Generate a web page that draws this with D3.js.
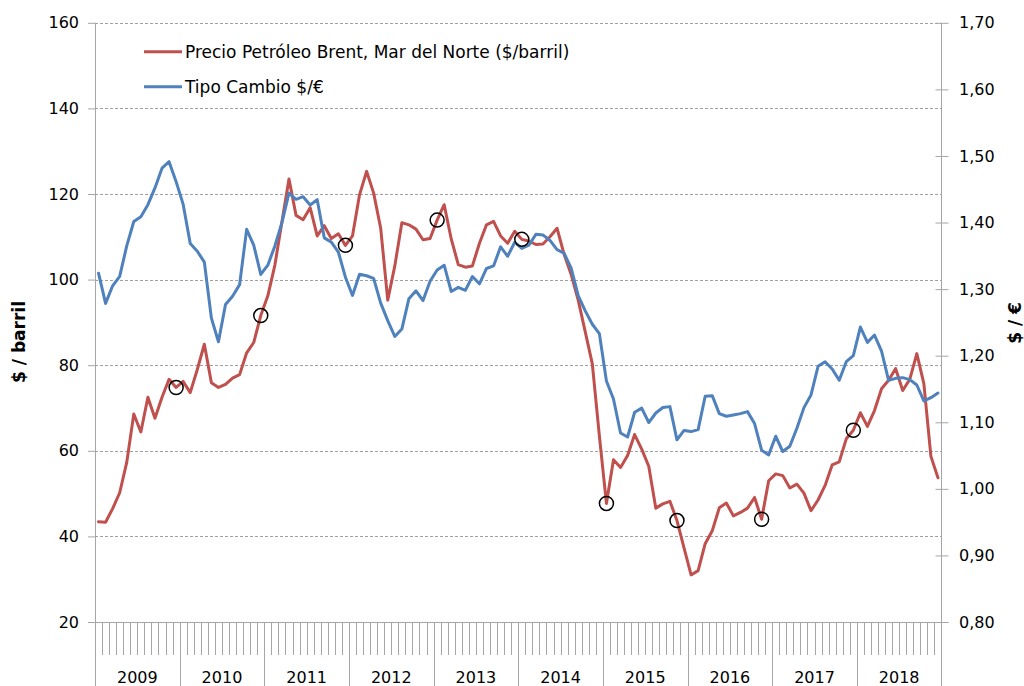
<!DOCTYPE html>
<html>
<head>
<meta charset="utf-8">
<script src="https://cdn.jsdelivr.net/npm/d3@7"></script>
<style>
  html, body { margin: 0; padding: 0; background: #fff; }
  svg { display: block; font-family: "DejaVu Sans", Verdana, sans-serif; }
</style>
</head>
<body>
<svg id="chart" width="1024" height="686"></svg>
<script>
// ---- Data ----
const years = [2009, 2010, 2011, 2012, 2013, 2014, 2015, 2016, 2017, 2018];

const brent = [
  43.4, 43.3, 46.5, 50.2, 57.3, 68.6, 64.4, 72.5, 67.6, 72.5, 76.7, 74.8,
  76.2, 73.6, 79.0, 84.9, 75.9, 74.8, 75.5, 77.0, 77.8, 82.9, 85.3, 91.6,
  96.2, 103.4, 113.5, 123.5, 115.0, 114.0, 116.8, 110.2, 112.6, 109.6, 110.7, 108.0,
  110.2, 119.8, 125.3, 120.2, 112.0, 95.2, 103.2, 113.3, 112.8, 111.8, 109.3, 109.6,
  113.9, 117.5, 109.5, 103.5, 102.9, 103.2, 108.5, 112.8, 113.6, 110.2, 108.5, 111.3,
  109.4, 109.0, 108.2, 108.3, 110.0, 112.0, 105.9, 101.2, 95.2, 87.8, 80.3, 63.5,
  47.7, 57.9, 56.1, 58.9, 63.8, 60.4, 56.4, 46.6, 47.6, 48.2, 43.7, 37.3,
  31.0, 32.0, 38.3, 41.3, 46.7, 47.8, 44.8, 45.6, 46.6, 49.1, 44.0, 53.0,
  54.6, 54.2, 51.3, 52.2, 50.1, 46.0, 48.5, 51.9, 56.7, 57.4, 62.8, 64.8,
  68.9, 65.7, 69.4, 74.5, 76.5, 79.2, 74.1, 76.7, 82.7, 75.7, 58.7, 53.7
];

const eurusd = [
  1.3239, 1.2785, 1.3050, 1.3190, 1.3650, 1.4016, 1.4088, 1.4268, 1.4520, 1.4816, 1.4914, 1.4614,
  1.4272, 1.3686, 1.3569, 1.3406, 1.2565, 1.2209, 1.2770, 1.2894, 1.3067, 1.3898, 1.3661, 1.3220,
  1.3360, 1.3649, 1.3999, 1.4442, 1.4349, 1.4388, 1.4264, 1.4343, 1.3770, 1.3706, 1.3556, 1.3179,
  1.2905, 1.3224, 1.3201, 1.3162, 1.2789, 1.2526, 1.2288, 1.2400, 1.2856, 1.2974, 1.2828, 1.3119,
  1.3288, 1.3359, 1.2964, 1.3026, 1.2982, 1.3189, 1.3080, 1.3310, 1.3348, 1.3635, 1.3493, 1.3704,
  1.3610, 1.3659, 1.3823, 1.3813, 1.3732, 1.3592, 1.3539, 1.3316, 1.2901, 1.2673, 1.2472, 1.2331,
  1.1621, 1.1350, 1.0838, 1.0779, 1.1150, 1.1213, 1.0996, 1.1139, 1.1221, 1.1235, 1.0736, 1.0877,
  1.0860, 1.0890, 1.1390, 1.1400, 1.1130, 1.1090, 1.1110, 1.1130, 1.1160, 1.0980, 1.0580, 1.0510,
  1.0790, 1.0560, 1.0640, 1.0910, 1.1220, 1.1410, 1.1840, 1.1910, 1.1800, 1.1630, 1.1910, 1.2000,
  1.2430, 1.2200, 1.2310, 1.2070, 1.1630, 1.1660, 1.1670, 1.1640, 1.1560, 1.1320, 1.1370, 1.1440
];

const markedMonths = [11, 23, 35, 48, 60, 72, 82, 94, 107];

const leftTicks = [20, 40, 60, 80, 100, 120, 140, 160];
const rightTicks = [0.8, 0.9, 1.0, 1.1, 1.2, 1.3, 1.4, 1.5, 1.6, 1.7];

const seriesNames = ["Precio Petróleo Brent, Mar del Norte ($/barril)", "Tipo Cambio $/€"];
const leftTitle = "$ / barril";
const rightTitle = "$ / €";

(function () {
// ---- Layout ----
const pL = 95, pR = 941.5, pT = 22.8, pB = 622;
const red = "#c0504d", blue = "#4f81bd", axisGray = "#a6a6a6";
const nMonths = years.length * 12;

const svg = d3.select("#chart");

const x = d3.scaleLinear().domain([0, nMonths]).range([pL, pR]);
const yL = d3.scaleLinear().domain([20, 160]).range([pB, pT]);
const yR = d3.scaleLinear().domain([0.8, 1.7]).range([pB, pT]);

const commaFmt = v => d3.format(".2f")(v).replace(".", ",");

// Gridlines (dashed)
svg.append("g").selectAll("line")
  .data(leftTicks.filter(t => t !== 20))
  .join("line")
  .attr("x1", pL).attr("x2", pR)
  .attr("y1", d => Math.round(yL(d)) + 0.5).attr("y2", d => Math.round(yL(d)) + 0.5)
  .attr("stroke", "#a0a0a0").attr("stroke-width", 1)
  .attr("stroke-dasharray", "3,2");

// Left axis
const gL = svg.append("g").attr("transform", `translate(${pL},0)`)
  .call(d3.axisLeft(yL).tickValues(leftTicks).tickSize(7).tickPadding(9).tickFormat(d3.format("d")));
gL.select(".domain").remove();
gL.selectAll(".tick line").attr("stroke", axisGray);
gL.selectAll(".tick text").attr("font-size", 16).attr("fill", "#000")
  .attr("font-family", "DejaVu Sans, Verdana, sans-serif");

// Right axis
const gR = svg.append("g").attr("transform", `translate(${pR},0)`)
  .call(d3.axisRight(yR).tickValues(rightTicks).tickSize(7).tickPadding(10.5).tickFormat(commaFmt));
gR.select(".domain").remove();
gR.selectAll(".tick line").attr("stroke", axisGray).attr("x1", -6);
gR.selectAll(".tick text").attr("font-size", 16).attr("fill", "#000")
  .attr("font-family", "DejaVu Sans, Verdana, sans-serif");

// Axis lines
svg.append("line").attr("x1", pL + 0.5).attr("x2", pL + 0.5).attr("y1", pT).attr("y2", 686)
  .attr("stroke", axisGray);
svg.append("line").attr("x1", pR).attr("x2", pR).attr("y1", pT).attr("y2", 686)
  .attr("stroke", axisGray);
svg.append("line").attr("x1", pL).attr("x2", pR + 7).attr("y1", pB + 0.5).attr("y2", pB + 0.5)
  .attr("stroke", axisGray);

// Month ticks & year separators
const boundaries = d3.range(1, nMonths);
svg.append("g").selectAll("line")
  .data(boundaries)
  .join("line")
  .attr("x1", d => Math.round(x(d)) + 0.5).attr("x2", d => Math.round(x(d)) + 0.5)
  .attr("y1", pB)
  .attr("y2", d => d % 12 === 0 ? 686 : 655)
  .attr("stroke", axisGray);

// Year labels
svg.append("g").selectAll("text")
  .data(years)
  .join("text")
  .attr("x", (d, i) => x(i * 12 + 6))
  .attr("y", 683)
  .attr("text-anchor", "middle")
  .attr("font-size", 16)
  .attr("fill", "#000")
  .text(d => d);

// Axis titles
svg.append("text")
  .attr("transform", `translate(25,342) rotate(-90)`)
  .attr("text-anchor", "middle")
  .attr("font-size", 17).attr("font-weight", "bold").attr("fill", "#000")
  .text(leftTitle);
svg.append("text")
  .attr("transform", `translate(1021,323) rotate(-90)`)
  .attr("text-anchor", "middle")
  .attr("font-size", 17).attr("font-weight", "bold").attr("fill", "#000")
  .text(rightTitle);

// Lines
const lineL = d3.line().x((d, i) => x(i + 0.5)).y(d => yL(d));
const lineR = d3.line().x((d, i) => x(i + 0.5)).y(d => yR(d));

svg.append("path").datum(brent)
  .attr("d", lineL).attr("fill", "none").attr("stroke", red)
  .attr("stroke-width", 3).attr("stroke-linejoin", "round").attr("stroke-linecap", "round");
svg.append("path").datum(eurusd)
  .attr("d", lineR).attr("fill", "none").attr("stroke", blue)
  .attr("stroke-width", 3).attr("stroke-linejoin", "round").attr("stroke-linecap", "round");

// Marked points (circles)
svg.append("g").selectAll("circle")
  .data(markedMonths)
  .join("circle")
  .attr("cx", d => x(d + 0.5))
  .attr("cy", d => yL(brent[d]))
  .attr("r", 7)
  .attr("fill", "none")
  .attr("stroke", "#000")
  .attr("stroke-width", 1.5);

// Legend
const legend = svg.append("g");
const legendRows = [
  { name: seriesNames[0], color: red, y: 51.7 },
  { name: seriesNames[1], color: blue, y: 86.7 }
];
legendRows.forEach(r => {
  legend.append("line").attr("x1", 144).attr("x2", 182).attr("y1", r.y).attr("y2", r.y)
    .attr("stroke", r.color).attr("stroke-width", 3);
  legend.append("text").attr("x", 185).attr("y", r.y + 6)
    .attr("font-size", 17).attr("fill", "#000").text(r.name);
});
})();
</script>
</body>
</html>
